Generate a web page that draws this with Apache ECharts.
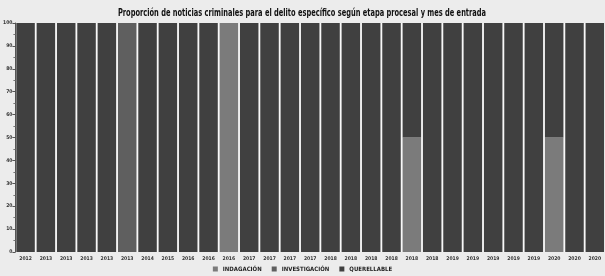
<!DOCTYPE html>
<html><head><meta charset="utf-8">
<script src="https://cdn.jsdelivr.net/npm/echarts@6/dist/echarts.min.js"></script>
<style>html,body{margin:0;padding:0;background:#ececec}#c{width:605px;height:276px}</style>
</head><body><div id="c"></div>
<script>
const titleText = 'Proporción de noticias criminales para el delito específico según etapa procesal y mes de entrada';
const categories = ["2012","2013","2013","2013","2013","2013","2014","2015","2016","2016","2016","2017","2017","2017","2017","2018","2018","2018","2018","2018","2018","2019","2019","2019","2019","2019","2020","2020","2020"];
const indagacion    = [0,0,0,0,0,0,0,0,0,0,100,0,0,0,0,0,0,0,0,50,0,0,0,0,0,0,50,0,0];
const investigacion = [0,0,0,0,0,100,0,0,0,0,0,0,0,0,0,0,0,0,0,0,0,0,0,0,0,0,0,0,0];
const querellable   = [100,100,100,100,100,0,100,100,100,100,0,100,100,100,100,100,100,100,100,50,100,100,100,100,100,100,50,100,100];
const yTicks = [0,10,20,30,40,50,60,70,80,90,100];

const FONT = '"DejaVu Sans Condensed","Liberation Sans Narrow",sans-serif';
const chart = echarts.init(document.getElementById('c'), null, {renderer:'canvas'});
const mk = (name, data, color) => ({name, type:'bar', stack:'s', data, barCategoryGap:'9%',
  itemStyle:{color}, emphasis:{disabled:true}});
chart.setOption({
  animation:false,
  backgroundColor:'#ececec',
  graphic:[{type:'text', x:302, y:13, scaleX:0.74, scaleY:1,
    style:{text:titleText, align:'center', verticalAlign:'middle',
      font:'bold 10px ' + FONT, fill:'#111'}}],
  legend:{bottom:-1, left:'center', icon:'rect', itemWidth:5, itemHeight:5, itemGap:10,
    textStyle:{fontFamily:FONT, fontWeight:'bold', fontSize:6, color:'#222'},
    data:['INDAGACIÓN','INVESTIGACIÓN','QUERELLABLE']},
  grid:{left:15, top:23, width:595, height:229, show:true, backgroundColor:'#f8f8f8', borderWidth:0},
  xAxis:{type:'category', data:categories,
    axisLine:{show:false},
    axisTick:{alignWithLabel:true, length:2, lineStyle:{color:'#777'}},
    axisLabel:{interval:0, fontFamily:FONT, fontWeight:'bold', fontSize:5, color:'#333', margin:4}},
  yAxis:{type:'value', min:yTicks[0], max:yTicks[yTicks.length-1], interval:10,
    axisLine:{show:true, lineStyle:{color:'#555'}},
    axisTick:{show:true, length:3, lineStyle:{color:'#555'}},
    minorTick:{show:true, splitNumber:2, length:2, lineStyle:{color:'#777'}},
    splitLine:{show:false},
    axisLabel:{fontFamily:FONT, fontWeight:'bold', fontSize:5, color:'#333', margin:3}},
  series:[mk('INDAGACIÓN', indagacion, '#7b7b7b'), mk('INVESTIGACIÓN', investigacion, '#5f5f5f'), mk('QUERELLABLE', querellable, '#404040')]
});
</script></body></html>
